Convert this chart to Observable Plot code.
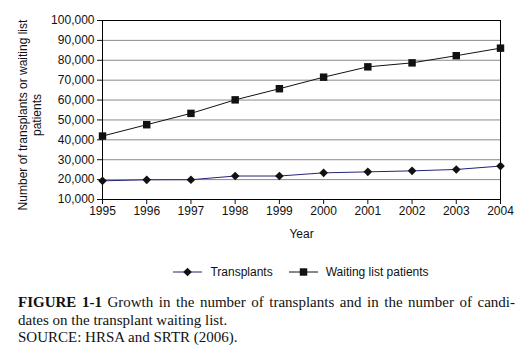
<!DOCTYPE html>
<html>
<head>
<meta charset="utf-8">
<script src="https://cdn.jsdelivr.net/npm/d3@7"></script>
<script src="https://cdn.jsdelivr.net/npm/@observablehq/plot@0.6"></script>
<style>
  html, body { margin: 0; padding: 0; background: #fff; }
  body { position: relative; width: 527px; height: 353px; overflow: hidden; font-family: "Liberation Sans", Arial, sans-serif; }
  #chart { position: absolute; left: 0; top: 0; }
  #legend { position: absolute; left: 102px; width: 398px; top: 264px; height: 16px; display: flex; justify-content: center; align-items: center; font-size: 12px; color: #111; }
  #legend .item { display: flex; align-items: center; margin: 0 8px; }
  #legend svg { margin-right: 8px; }
  #caption { position: absolute; left: 18px; top: 294px; width: 497px; font-family: "Liberation Serif", "Times New Roman", serif; font-size: 15px; line-height: 17.5px; color: #111; }
  #caption .l1 { text-align: justify; text-align-last: justify; }
</style>
</head>
<body>
<div id="chart"></div>
<div id="legend"></div>
<div id="caption">
  <div class="l1"><b>FIGURE 1-1</b> Growth in the number of transplants and in the number of candi-</div>
  <div>dates on the transplant waiting list.</div>
  <div>SOURCE: HRSA and SRTR (2006).</div>
</div>
<script>
const years = [1995, 1996, 1997, 1998, 1999, 2000, 2001, 2002, 2003, 2004];
const transplants = [19400, 19900, 19950, 21800, 21800, 23400, 23900, 24400, 25100, 26800];
const waitingList = [41900, 47600, 53300, 60100, 65700, 71500, 76700, 78700, 82300, 86100];
const seriesNames = ["Transplants", "Waiting list patients"];
const seriesColors = ["#232378", "#111111"];
const seriesSymbols = ["diamond2", "square"];
const yTicks = [10000, 20000, 30000, 40000, 50000, 60000, 70000, 80000, 90000, 100000];
const yLabel = "Number of transplants or waiting list\npatients";
const xLabel = "Year";

const tData = years.map((y, i) => ({year: y, value: transplants[i]}));
const wData = years.map((y, i) => ({year: y, value: waitingList[i]}));

const chart = Plot.plot({
  width: 527,
  height: 250,
  marginLeft: 102,
  marginRight: 27,
  marginTop: 20,
  marginBottom: 51,
  style: {fontFamily: "'Liberation Sans', Arial, sans-serif", fontSize: "12px", color: "#111"},
  x: {domain: [1995, 2004]},
  y: {domain: [10000, 100000]},
  marks: [
    Plot.gridY(yTicks, {stroke: "#8a8a8a", strokeOpacity: 1, strokeWidth: 1}),
    Plot.frame({stroke: "#000", strokeWidth: 1}),
    Plot.axisY(yTicks, {tickFormat: d3.format(","), tickSize: 5, tickPadding: 3, label: null, fontSize: 12}),
    Plot.axisX(years, {tickFormat: d => String(d), tickSize: 5, tickPadding: 2, label: null, fontSize: 12}),
    Plot.text([yLabel], {frameAnchor: "left", rotate: -90, dx: -73, dy: 5, lineHeight: 1.2, fontSize: 12, textAnchor: "middle"}),
    Plot.text([xLabel], {frameAnchor: "bottom", dy: 38, fontSize: 12}),
    Plot.line(tData, {x: "year", y: "value", stroke: seriesColors[0], strokeWidth: 1}),
    Plot.line(wData, {x: "year", y: "value", stroke: seriesColors[1], strokeWidth: 1}),
    Plot.dot(tData, {x: "year", y: "value", symbol: () => seriesSymbols[0], r: 3.9, fill: "#111", stroke: "none"}),
    Plot.dot(wData, {x: "year", y: "value", symbol: () => seriesSymbols[1], r: 4.2, fill: "#111", stroke: "none"})
  ]
});
document.getElementById("chart").appendChild(chart);

// legend
const legend = document.getElementById("legend");
seriesNames.forEach((name, i) => {
  const item = document.createElement("div");
  item.className = "item";
  const svg = d3.create("svg").attr("width", 29).attr("height", 12);
  svg.append("line").attr("x1", 0).attr("x2", 29).attr("y1", 6).attr("y2", 6).attr("stroke", seriesColors[i]).attr("stroke-width", 1);
  const sym = i === 0 ? d3.symbolDiamond2 : d3.symbolSquare;
  const size = i === 0 ? Math.PI * 3.9 * 3.9 : Math.PI * 4.2 * 4.2;
  svg.append("path").attr("d", d3.symbol(sym, size)()).attr("transform", "translate(14.5,6)").attr("fill", "#111");
  item.appendChild(svg.node());
  const span = document.createElement("span");
  span.textContent = name;
  item.appendChild(span);
  legend.appendChild(item);
});
</script>
</body>
</html>
